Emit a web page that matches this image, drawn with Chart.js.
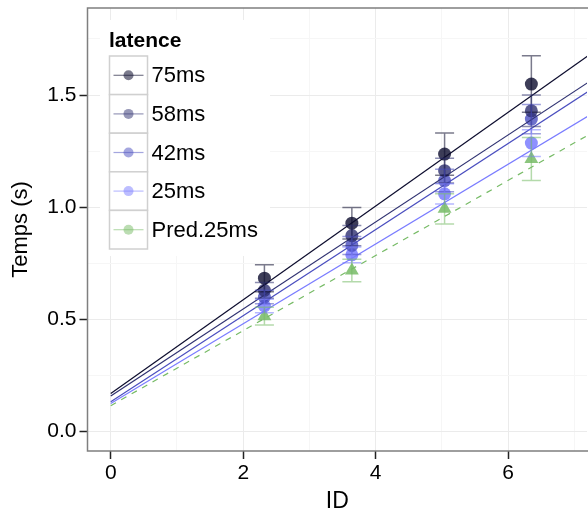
<!DOCTYPE html>
<html>
<head>
<meta charset="utf-8">
<script src="https://cdn.jsdelivr.net/npm/chart.js@4"></script>
<style>
  html, body { margin: 0; padding: 0; background: #fff; }
  #wrap { width: 588px; height: 516px; position: relative; overflow: hidden; }
</style>
</head>
<body>
<div id="wrap"><canvas id="c" width="595" height="516"></canvas></div>
<script>
// data
const series = ['75ms', '58ms', '42ms', '25ms', 'Pred.25ms'];
const ids = [2.32, 3.64, 5.04, 6.35];
const t75 = [0.684, 0.929, 1.237, 1.549];
const t58 = [0.63, 0.874, 1.163, 1.43];
const t42 = [0.60, 0.83, 1.119, 1.393];
const t25 = [0.56, 0.788, 1.06, 1.286];
const tPred = [0.515, 0.718, 0.993, 1.215];
const e75 = [0.06, 0.07, 0.094, 0.126];
const e58 = [0.035, 0.045, 0.055, 0.07];
const e42 = [0.03, 0.04, 0.05, 0.065];
const e25 = [0.03, 0.035, 0.045, 0.06];
const ePred = [0.04, 0.05, 0.067, 0.096];
// fitted lines: value at ID=0 and at ID=7.4 (past the right edge)
const fitX = [0, 7.4];
const fitStart = [0.170, 0.159, 0.133, 0.126, 0.116];
const fitEnd = [1.716, 1.594, 1.553, 1.441, 1.354];
const xTicks = [0, 1, 2, 3, 4, 5, 6, 7];
const yTicks = [0, 0.25, 0.5, 0.75, 1, 1.25, 1.5, 1.75];

const means = [t75, t58, t42, t25, tPred];
const errs = [e75, e58, e42, e25, ePred];
const lineCol = ['#0d0d2e', '#2e3070', '#4a4ebf', '#7a7cff', '#77bb66'];
const ptCol = ['rgba(13,13,46,0.8)', 'rgba(46,48,112,0.8)', 'rgba(74,78,191,0.8)',
               'rgba(122,124,255,0.85)', 'rgba(119,187,102,0.85)'];
const barCol = ['rgba(13,13,46,0.55)', 'rgba(46,48,112,0.55)', 'rgba(74,78,191,0.55)',
                'rgba(122,124,255,0.55)', 'rgba(119,187,102,0.55)'];
const keyCol = ['rgba(13,13,46,0.55)', 'rgba(46,48,112,0.5)', 'rgba(74,78,191,0.5)',
                'rgba(122,124,255,0.5)', 'rgba(119,187,102,0.5)'];
const FONT = '"Liberation Sans", Arial, sans-serif';

const datasets = [];
series.forEach((name, i) => {
  datasets.push({
    type: 'scatter', label: name,
    data: ids.map((x, j) => ({ x: x, y: means[i][j] })),
    backgroundColor: ptCol[i], borderWidth: 0,
    pointStyle: i === 4 ? 'triangle' : 'circle',
    pointRadius: i === 4 ? 8 : 6.5,
    order: 3
  });
  datasets.push({
    type: 'line', label: name + ' fit',
    data: fitX.map((x, j) => ({ x: x, y: j === 0 ? fitStart[i] : fitEnd[i] })),
    borderColor: lineCol[i], borderWidth: 1.2, pointRadius: 0,
    borderDash: i === 4 ? [6, 6] : [],
    order: 1
  });
});

const errorBars = {
  id: 'errorBars',
  afterDatasetsDraw(chart) {
    const ctx = chart.ctx, xs = chart.scales.x, ys = chart.scales.y;
    ctx.save();
    series.forEach((name, i) => {
      ctx.strokeStyle = barCol[i];
      ctx.lineWidth = 1.5;
      ids.forEach((x, j) => {
        const px = xs.getPixelForValue(x);
        const top = ys.getPixelForValue(means[i][j] + errs[i][j]);
        const bot = ys.getPixelForValue(means[i][j] - errs[i][j]);
        ctx.beginPath();
        ctx.moveTo(px, top); ctx.lineTo(px, bot);
        ctx.moveTo(px - 9.5, top); ctx.lineTo(px + 9.5, top);
        ctx.moveTo(px - 9.5, bot); ctx.lineTo(px + 9.5, bot);
        ctx.stroke();
      });
    });
    ctx.restore();
  }
};

const panelBorder = {
  id: 'panelBorder',
  afterDraw(chart) {
    const { ctx, chartArea: a } = chart;
    ctx.save();
    ctx.strokeStyle = '#7f7f7f';
    ctx.lineWidth = 1.5;
    ctx.beginPath();
    ctx.moveTo(a.right + 20, a.top); ctx.lineTo(a.left, a.top);
    ctx.lineTo(a.left, a.bottom); ctx.lineTo(a.right + 20, a.bottom);
    ctx.stroke();
    ctx.restore();
  }
};

// ggplot style legend
const ggLegend = {
  id: 'ggLegend',
  afterDraw(chart) {
    const ctx = chart.ctx;
    ctx.save();
    ctx.fillStyle = '#fff';
    ctx.fillRect(100, 20, 170, 236);
    ctx.fillStyle = '#000';
    ctx.font = 'bold 21px ' + FONT;
    ctx.textBaseline = 'alphabetic';
    ctx.fillText('latence', 109, 47);
    const kx = 109.5, kw = 38, kh = 38.6, ky0 = 56;
    series.forEach((name, i) => {
      const y = ky0 + i * kh;
      ctx.fillStyle = '#fff';
      ctx.fillRect(kx, y, kw, kh);
      ctx.strokeStyle = '#d0d0d0';
      ctx.lineWidth = 1.5;
      ctx.strokeRect(kx, y, kw, kh);
      const cy = y + kh / 2;
      ctx.strokeStyle = keyCol[i];
      ctx.lineWidth = 1.2;
      ctx.beginPath();
      ctx.moveTo(kx + 4, cy); ctx.lineTo(kx + kw - 4, cy);
      ctx.stroke();
      ctx.fillStyle = keyCol[i];
      ctx.beginPath();
      ctx.arc(kx + kw / 2, cy, 5, 0, Math.PI * 2);
      ctx.fill();
      ctx.fillStyle = '#000';
      ctx.font = '22px ' + FONT;
      ctx.textBaseline = 'middle';
      ctx.fillText(name, kx + kw + 4, cy + 1);
    });
    ctx.restore();
  }
};

function gridColor(ctx, step) {
  const v = ctx.tick ? ctx.tick.value : 0;
  return Math.abs(v / step - Math.round(v / step)) < 1e-6 ? '#ebebeb' : '#f6f6f6';
}
function tickColor(ctx, step) {
  const v = ctx.tick ? ctx.tick.value : 0;
  return Math.abs(v / step - Math.round(v / step)) < 1e-6 ? '#222' : 'rgba(0,0,0,0)';
}

new Chart(document.getElementById('c'), {
  data: { datasets: datasets },
  plugins: [errorBars, panelBorder, ggLegend],
  options: {
    responsive: false,
    animation: false,
    layout: { padding: { top: 7, right: 0, left: 0, bottom: 0 } },
    plugins: { legend: { display: false }, tooltip: { enabled: false } },
    scales: {
      x: {
        type: 'linear', min: -0.351, max: 7.19,
        afterBuildTicks: s => { s.ticks = xTicks.map(v => ({ value: v })); },
        afterFit: s => { s.height = 65; s.paddingLeft = 0; s.paddingRight = 0; },
        ticks: {
          padding: 2, color: '#000', font: { family: FONT, size: 21 },
          callback: v => (v % 2 === 0 ? String(v) : '')
        },
        grid: {
          color: c => gridColor(c, 2), lineWidth: 1,
          tickColor: c => tickColor(c, 2), tickLength: 8, tickWidth: 1.5
        },
        border: { display: false },
        title: { display: true, text: 'ID', color: '#000',
                 font: { family: FONT, size: 23 }, padding: { top: 0, bottom: 1 } }
      },
      y: {
        type: 'linear', min: -0.086, max: 1.888,
        afterBuildTicks: s => { s.ticks = yTicks.map(v => ({ value: v })); },
        afterFit: s => { s.width = 87.5; s.paddingTop = 0; s.paddingBottom = 0; },
        ticks: {
          padding: 3, color: '#000', font: { family: FONT, size: 21 },
          callback: v => (Math.abs(v * 2 - Math.round(v * 2)) < 1e-6 ? v.toFixed(1) : '')
        },
        grid: {
          color: c => gridColor(c, 0.5), lineWidth: 1,
          tickColor: c => tickColor(c, 0.5), tickLength: 8, tickWidth: 1.5
        },
        border: { display: false },
        title: { display: true, text: 'Temps (s)', color: '#000',
                 font: { family: FONT, size: 22 }, padding: { top: 8, bottom: 0 } }
      }
    }
  }
});
</script>
</body>
</html>
